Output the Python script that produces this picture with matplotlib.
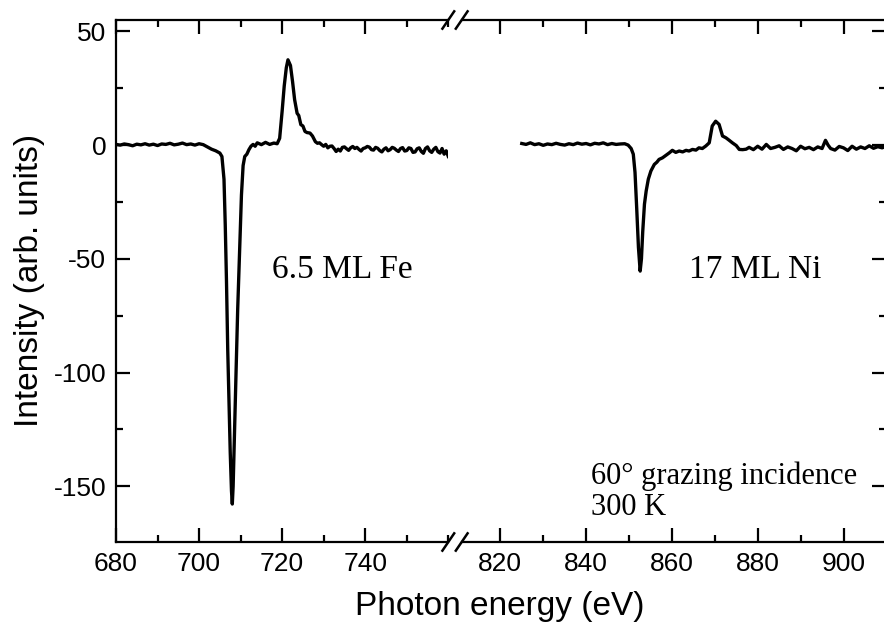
import matplotlib
matplotlib.use("Agg")
import matplotlib.pyplot as plt
from matplotlib.lines import Line2D
from matplotlib.ticker import MultipleLocator

# ---------------- data ----------------
fe_energy = [680, 681, 682, 683, 684, 685, 686, 687, 688, 689, 690, 691, 692, 693, 694,
             695, 696, 697, 698, 699, 700, 701, 702, 703, 704, 705, 705.5, 706, 706.3,
             706.6, 706.9, 707.2, 707.5, 707.8, 708.0, 708.2, 708.5, 708.9, 709.3, 709.8,
             710.2, 710.6, 711.0, 711.5, 712, 712.5, 713, 713.5, 714, 715, 716, 717, 718,
             718.8, 719.4, 720, 720.5, 721, 721.4, 722, 722.5, 723, 723.6, 724, 724.5,
             725, 725.5, 726, 726.7, 727.3,
             728, 728.5, 729, 729.5, 730, 730.5, 731, 731.5, 732, 732.5, 733, 733.5, 734,
             734.5, 735, 735.5, 736, 736.5, 737, 737.5, 738, 738.5, 739, 739.5, 740, 740.5,
             741, 741.5, 742, 742.5, 743, 743.5, 744, 744.5, 745, 745.5, 746, 746.5, 747,
             747.5, 748, 748.5, 749, 749.5, 750, 750.5, 751, 751.5, 752, 752.5, 753, 753.5,
             754, 754.5, 755, 755.5, 756, 756.5, 757, 757.5, 758, 758.5, 759, 759.5, 760]
fe_signal = [0.3, 0.0, 0.5, 0.2, -0.3, 0.4, 0.1, 0.6, 0.0, 0.4, -0.2, 0.5, 0.3, 0.8, 0.1,
             0.4, 0.9, 0.2, 0.5, 0.0, 0.6, 0.2, -0.8, -1.8, -2.5, -3.5, -5, -15, -35,
             -60, -90, -112, -135, -152, -157.8, -150, -128, -100, -72, -45,
             -22, -9, -5, -4, -2, -0.5, 0.3, -0.5, 1.0, 0.2, 1.2, 0.3, 0.9,
             0.6, 3, 15, 26, 34, 37.5, 35, 28, 20, 14, 13, 9,
             8.4, 6, 5.5, 5.3, 4,
             1.5, 0.8, 1.0, 0.2, -0.5, 0.3, -1.2, -0.5, -0.4, -1.5, -2.8, -1.8, -2.6,
             -1.0, -0.8, -1.6, -2.3, -1.2, -0.6, -1.5, -1.0, -1.9, -2.6, -1.5, -1.2, -0.6,
             -0.9, -2.0, -2.2, -1.0, -1.4, -2.4, -3.0, -1.8, -1.2, -2.5, -2.0, -1.0, -1.4,
             -2.2, -2.8, -1.5, -1.1, -2.6, -2.4, -1.2, -1.5, -3.2, -3.0, -1.6, -1.2, -2.8,
             -3.6, -1.5, -0.8, -2.5, -3.2, -1.8, -1.0, -2.9, -3.5, -1.5, -4.0, -2.5, -5.0]

ni_energy = [825, 826, 827, 828, 829, 830, 831, 832, 833, 834, 835, 836, 837, 838, 839,
             840, 841, 842, 843, 844, 845, 846, 847, 848, 849, 849.8, 850.5, 851.0, 851.4,
             851.8, 852.2, 852.6, 852.9, 853.2, 853.6, 854.0, 854.5, 855.1, 855.9, 856.5,
             857.0, 857.8, 858.6, 859.4, 860.1, 860.9, 861.7, 862.5, 863.3, 864.0, 864.8,
             865.6, 866.3, 867.1, 867.9, 868.7, 869.4, 870.2, 871.0, 871.8, 872.6, 873.3,
             874.1, 875.0, 875.7, 876.5, 877.3, 878, 879, 880, 881, 882, 883, 884, 885, 886,
             887, 888, 889, 890, 891, 892, 893, 894, 895, 895.8, 896.4, 897, 898, 899, 900,
             901, 902, 903, 904, 905, 906, 907, 908, 909, 910]
ni_signal = [0.7, 0.3, 1.0, 0.2, 0.6, -0.1, 0.5, 0.2, 0.8, 0.3, 0.0, 0.6, 0.2, 0.9, 0.4,
             0.7, 0.1, 0.8, 0.5, 1.0, 0.2, 0.7, 0.3, 0.5, 0.6, 0.0, -1.5, -4, -12,
             -28, -45, -55.4, -50, -38, -26, -20.2, -15, -11.4, -8.5, -7.5,
             -6.3, -5.6, -4.5, -3.4, -2.3, -3.2, -2.6, -3.0, -2.3, -2.6, -1.9,
             -2.2, -1.2, -1.5, -0.4, 1.0, 8.4, 10.5, 9.1, 4.0, 3.2, 2.2,
             1.0, -0.2, -1.9, -2.0, -1.8, -1.0, -2.0, -0.5, -1.8, 0.3, -1.5, -1.0, -0.3, -1.9,
             -0.8, -1.5, -2.5, -0.5, -1.6, -1.0, -2.0, -0.8, -1.5, 2.1, 0.0, -1.5, -2.2, -0.6, -1.2,
             -2.4, -0.5, -1.8, -0.8, -1.5, -0.3, -1.4, -0.7, -1.2, -0.5]

left_xlim = (680, 760)
right_xlim = (811, 910)
y_lim = (-174.5, 55)

# ---------------- figure ----------------
W, H = 884, 628
fig = plt.figure(figsize=(W / 100, H / 100), dpi=100)

def fx(px):
    return px / W

def fy(py):
    return 1 - py / H

ax_top, ax_bot = 20, 542
x_left0, x_left1 = 116, 448.3
x_right0, x_right1 = 461.7, 886.4

axL = fig.add_axes([fx(x_left0), fy(ax_bot), fx(x_left1 - x_left0), (ax_bot - ax_top) / H])
axR = fig.add_axes([fx(x_right0), fy(ax_bot), fx(x_right1 - x_right0), (ax_bot - ax_top) / H])

sans = ["Liberation Sans", "DejaVu Sans"]
serif = ["Liberation Serif", "DejaVu Serif"]

lw_data = 2.4
lw_spine = 1.6
axL.plot(fe_energy, fe_signal, color="black", lw=lw_data, solid_joinstyle="round")
axR.plot(ni_energy, ni_signal, color="black", lw=lw_data, solid_joinstyle="round")

for ax, xl in ((axL, left_xlim), (axR, right_xlim)):
    ax.set_xlim(*xl)
    ax.set_ylim(*y_lim)
    for s in ax.spines.values():
        s.set_linewidth(lw_spine)
    ax.xaxis.set_major_locator(MultipleLocator(20))
    ax.xaxis.set_minor_locator(MultipleLocator(10))
    ax.yaxis.set_major_locator(MultipleLocator(50))
    ax.yaxis.set_minor_locator(MultipleLocator(25))
    ax.tick_params(which="both", direction="in", width=lw_spine, top=True)
    ax.tick_params(which="major", length=10)
    ax.tick_params(which="minor", length=5)
    ax.tick_params(axis="x", labelsize=19, pad=7)
    ax.tick_params(axis="y", labelsize=19, pad=7)

axL.spines["right"].set_visible(False)
axR.spines["left"].set_visible(False)
axL.tick_params(which="both", right=False, left=True)
axR.tick_params(which="both", left=False, right=True, labelleft=False)

# tick labels (ASCII hyphen-minus as in the original)
axL.set_yticks([50, 0, -50, -100, -150])
axL.set_yticklabels(["50", "0", "-50", "-100", "-150"], family=sans, fontsize=19)
axL.set_xticks([680, 700, 720, 740])
axL.set_xticklabels(["680", "700", "720", "740"], family=sans, fontsize=19)
axR.set_xticks([820, 840, 860, 880, 900])
axR.set_xticklabels(["820", "840", "860", "880", "900"], family=sans, fontsize=19)

# break marks
for cx in (448.3, 461.7):
    for cy in (ax_top, ax_bot):
        fig.add_artist(Line2D([fx(cx - 6.6), fx(cx + 6.6)], [fy(cy + 9.7), fy(cy - 9.7)],
                              transform=fig.transFigure, color="black", lw=1.8,
                              solid_capstyle="butt"))

# annotations
axL.text(717.5, -58.3, "6.5 ML Fe", family=serif, fontsize=24, va="baseline", ha="left")
axR.text(864.1, -58.3, "17 ML Ni", family=serif, fontsize=24, va="baseline", ha="left")
axR.text(841.2, -148.8, "60° grazing incidence", family=serif, fontsize=22, va="baseline", ha="left")
axR.text(841.2, -162.8, "300 K", family=serif, fontsize=22, va="baseline", ha="left")

# axis labels
fig.text(fx(500), fy(606), "Photon energy (eV)", family=sans, fontsize=24, ha="center", va="center")
fig.text(fx(30), fy(280), "Intensity (arb. units)", family=sans, fontsize=24, ha="center",
         va="center", rotation=90)

fig.savefig("out.png", dpi=100)
